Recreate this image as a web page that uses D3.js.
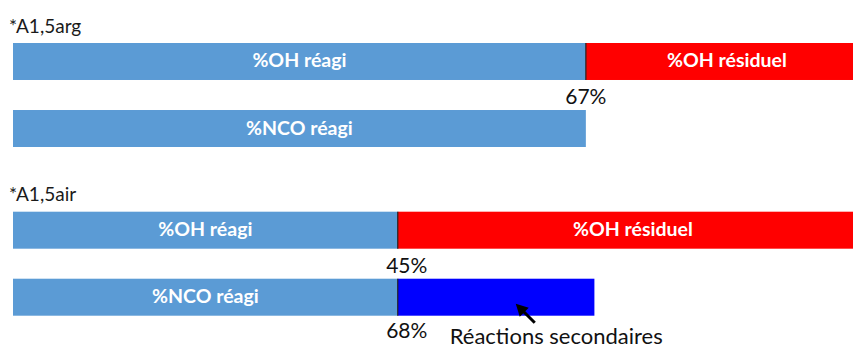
<!DOCTYPE html>
<html>
<head>
<meta charset="utf-8">
<script src="https://cdn.jsdelivr.net/npm/d3@7"></script>
<style>
  html, body { margin: 0; padding: 0; background: #fff; }
  svg { display: block; font-family: Lato, "Open Sans", sans-serif; }
</style>
</head>
<body>
<svg id="chart" width="853" height="345"></svg>
<script>
// Sample groups and their conversion rates (%)
const groups = ["*A1,5arg", "*A1,5air"];
const ohReacted = [67, 45];          // %OH réagi
const ncoReacted = [67, 45];         // %NCO réagi (urethane part)
const ncoTotal = [67, 68];           // total NCO consumed, incl. secondary reactions
const ohLabels = ["67%", "45%"];
const ncoLabels = ["", "68%"];
const rows = ["OH", "NCO"];

const svg = d3.select("#chart");
const W = 853, H = 345;

const x = d3.scaleLinear().domain([0, 100]).range([13, 868]);
const yGroup = d3.scaleBand().domain(groups).range([43, 380.4]).padding(0);
const yRow = d3.scaleBand().domain(rows).range([0, 104]).paddingInner(0.448).paddingOuter(0);

const colors = { reacted: "#5B9BD5", residual: "#FF0000", secondary: "#0000FF" };

svg.append("rect").attr("width", W).attr("height", H).attr("fill", "#fff");

groups.forEach((g, i) => {
  const gy = yGroup(g);
  const root = svg.append("g").attr("transform", `translate(0,${gy})`);
  const bh = yRow.bandwidth();

  // group title
  root.append("text")
    .attr("x", 9).attr("y", -10.5)
    .attr("font-size", 19).attr("fill", "#1a1a1a")
    .text(g);

  // OH bar: reacted + residual
  const yOH = yRow("OH");
  root.append("rect").attr("x", x(0)).attr("y", yOH)
    .attr("width", x(ohReacted[i]) - x(0)).attr("height", bh).attr("fill", colors.reacted);
  root.append("rect").attr("x", x(ohReacted[i])).attr("y", yOH)
    .attr("width", x(100) - x(ohReacted[i])).attr("height", bh).attr("fill", colors.residual);
  root.append("line")
    .attr("x1", x(ohReacted[i])).attr("x2", x(ohReacted[i]))
    .attr("y1", yOH).attr("y2", yOH + bh)
    .attr("stroke", "#222").attr("stroke-width", 1.2);

  root.append("text")
    .attr("x", (x(0) + x(ohReacted[i])) / 2).attr("y", yOH + bh / 2 + 6)
    .attr("text-anchor", "middle").attr("fill", "#fff")
    .attr("font-weight", "bold").attr("font-size", 19.5)
    .text("%OH réagi");
  root.append("text")
    .attr("x", (x(ohReacted[i]) + x(100)) / 2).attr("y", yOH + bh / 2 + 6)
    .attr("text-anchor", "middle").attr("fill", "#fff")
    .attr("font-weight", "bold").attr("font-size", 19.5)
    .text("%OH résiduel");

  // NCO bar: reacted (+ secondary reactions)
  const yN = yRow("NCO");
  root.append("rect").attr("x", x(0)).attr("y", yN)
    .attr("width", x(ncoReacted[i]) - x(0)).attr("height", bh).attr("fill", colors.reacted);
  if (ncoTotal[i] > ncoReacted[i]) {
    root.append("rect").attr("x", x(ncoReacted[i])).attr("y", yN)
      .attr("width", x(ncoTotal[i]) - x(ncoReacted[i])).attr("height", bh).attr("fill", colors.secondary);
    root.append("line")
      .attr("x1", x(ncoReacted[i])).attr("x2", x(ncoReacted[i]))
      .attr("y1", yN).attr("y2", yN + bh)
      .attr("stroke", "#222").attr("stroke-width", 1.2);
  }
  root.append("text")
    .attr("x", (x(0) + x(ncoReacted[i])) / 2).attr("y", yN + bh / 2 + 6)
    .attr("text-anchor", "middle").attr("fill", "#fff")
    .attr("font-weight", "bold").attr("font-size", 19.5)
    .text("%NCO réagi");

  // percentage labels under the split points
  const dx = i === 0 ? 0 : 9;
  root.append("text")
    .attr("x", x(ohReacted[i]) + dx).attr("y", yOH + bh + 24)
    .attr("text-anchor", "middle").attr("fill", "#111").attr("font-size", 21)
    .text(ohLabels[i]);
  if (ncoLabels[i]) {
    root.append("text")
      .attr("x", x(ncoReacted[i]) + dx).attr("y", yN + bh + 22.5)
      .attr("text-anchor", "middle").attr("fill", "#111").attr("font-size", 21)
      .text(ncoLabels[i]);

    // annotation for the secondary reactions
    const ax = x(ncoReacted[i]) + 137;
    const ay = yN + bh + 7;
    root.append("text")
      .attr("x", x(ncoReacted[i]) + 52).attr("y", yN + bh + 28)
      .attr("fill", "#111").attr("font-size", 22)
      .text("Réactions secondaires");
    root.append("line")
      .attr("x1", ax).attr("y1", ay)
      .attr("x2", ax - 12).attr("y2", ay - 12)
      .attr("stroke", "#000").attr("stroke-width", 3);
    root.append("path")
      .attr("d", d3.line()([[ax - 19, ay - 19], [ax - 6, ay - 15], [ax - 15, ay - 6]]))
      .attr("fill", "#000");
  }
});
</script>
</body>
</html>
